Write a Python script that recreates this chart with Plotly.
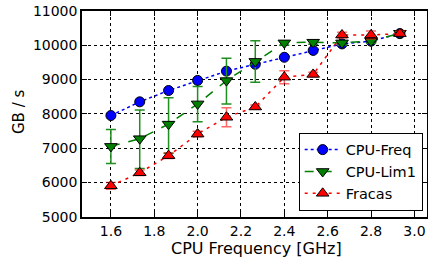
import plotly.graph_objects as go

freq = [1.6, 1.733, 1.866, 2.0, 2.133, 2.266, 2.4, 2.533, 2.666, 2.8, 2.933]

cpu_freq = [7950, 8350, 8680, 8975, 9245, 9445, 9650, 9850, 10040, 10120, 10340]
cpu_freq_err = [40, 40, 40, 40, 40, 40, 40, 40, 40, 40, 40]

cpu_lim1 = [7050, 7275, 7700, 8290, 8970, 9530, 10070, 10090, 10070, 10120, 10350]
cpu_lim1_err_plus = [490, 840, 770, 510, 650, 600, 60, 60, 60, 60, 60]
cpu_lim1_err_minus = [500, 870, 850, 520, 680, 610, 60, 60, 60, 60, 60]

fracas = [5900, 6280, 6780, 7410, 7900, 8200, 9070, 9150, 10300, 10300, 10340]
fracas_err = [100, 80, 80, 80, 280, 60, 190, 60, 80, 120, 80]

x_ticks = [1.6, 1.8, 2.0, 2.2, 2.4, 2.6, 2.8, 3.0]
y_ticks = [5000, 6000, 7000, 8000, 9000, 10000, 11000]

FONT = "DejaVu Sans"

fig = go.Figure()

fig.add_trace(go.Scatter(
    x=freq, y=cpu_freq, name="CPU-Freq", mode="lines+markers",
    line=dict(color="blue", dash="dot", width=1.5),
    marker=dict(symbol="circle", size=10, color="blue", line=dict(color="black", width=1)),
    error_y=dict(type="data", array=cpu_freq_err, color="blue", thickness=1.5, width=4),
))
fig.add_trace(go.Scatter(
    x=freq, y=cpu_lim1, name="CPU-Lim1", mode="lines+markers",
    line=dict(color="green", dash="dash", width=1.5),
    marker=dict(symbol="triangle-down", size=11, color="green", line=dict(color="black", width=1)),
    error_y=dict(type="data", array=cpu_lim1_err_plus, arrayminus=cpu_lim1_err_minus,
                 color="#1f8f1f", thickness=1.5, width=5),
))
fig.add_trace(go.Scatter(
    x=freq, y=fracas, name="Fracas", mode="lines+markers",
    line=dict(color="red", dash="3px,5px", width=1.5),
    marker=dict(symbol="triangle-up", size=11, color="red", line=dict(color="black", width=1)),
    error_y=dict(type="data", array=fracas_err, color="rgba(255,0,0,0.6)", thickness=1.5, width=5),
))

axis_common = dict(
    showline=True, linecolor="black", linewidth=1.5, mirror="ticks",
    ticks="inside", ticklen=5, tickcolor="black",
    showgrid=True, gridcolor="black", griddash="dot", gridwidth=1,
    zeroline=False, automargin=False,
    tickfont=dict(family=FONT, size=14, color="black"),
)

fig.update_xaxes(
    range=[1.4667, 3.058], tickvals=x_ticks, ticktext=[f"{v:.1f}" for v in x_ticks],
    **axis_common,
)
fig.update_yaxes(
    range=[4990, 11000], tickvals=y_ticks, ticktext=[str(v) for v in y_ticks],
    **axis_common,
)

fig.add_annotation(
    text="CPU Frequency [GHz]", xref="paper", yref="paper", x=0.506, y=-0.1505,
    xanchor="center", yanchor="middle", showarrow=False,
    font=dict(family=FONT, size=16, color="black"),
)
fig.add_annotation(
    text="GB / s", xref="paper", yref="paper", x=-0.184, y=0.512, textangle=-90,
    xanchor="center", yanchor="middle", showarrow=False,
    font=dict(family=FONT, size=15, color="black"),
)

fig.update_layout(
    width=428, height=261,
    margin=dict(l=82, r=1, t=11, b=44),
    paper_bgcolor="white", plot_bgcolor="white",
    font=dict(family=FONT, color="black"),
    legend=dict(
        x=0.9875, y=0.0306, xanchor="right", yanchor="bottom",
        bgcolor="white", bordercolor="black", borderwidth=1,
        font=dict(family=FONT, size=14.5, color="black"),
        tracegroupgap=0, itemwidth=36,
    ),
    showlegend=True,
)

fig.write_html(
    "out.html",
    config={"displayModeBar": False},
    post_script="document.body.style.margin='0px';",
)
